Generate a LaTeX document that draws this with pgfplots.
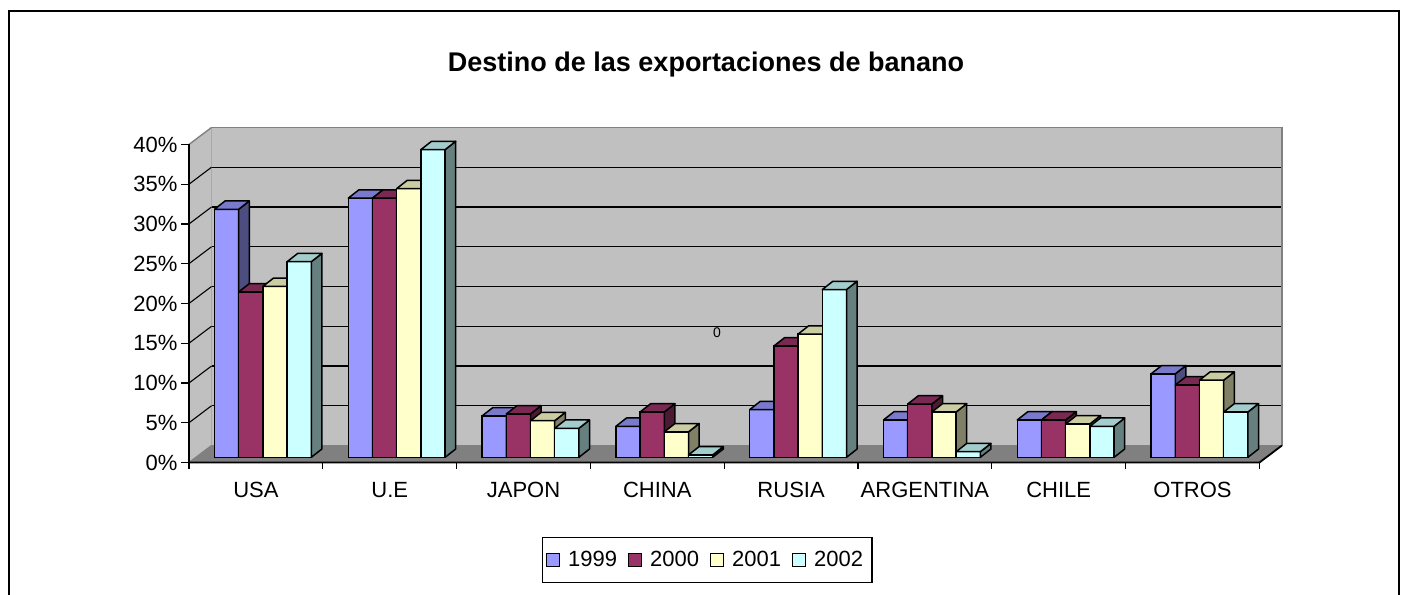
\documentclass[border=0pt]{standalone}
\usepackage{pgfplots}
\pgfplotsset{compat=1.18}
\usepackage{fontspec}
\setmainfont{Liberation Sans}
\definecolor{cA}{HTML}{9999FF}
\definecolor{cAt}{HTML}{7A7ACC}
\definecolor{cAs}{HTML}{4D4D80}
\definecolor{cB}{HTML}{993366}
\definecolor{cBt}{HTML}{7A2952}
\definecolor{cBs}{HTML}{4D1A33}
\definecolor{cC}{HTML}{FFFFCC}
\definecolor{cCt}{HTML}{CCCCA3}
\definecolor{cCs}{HTML}{808066}
\definecolor{cD}{HTML}{CCFFFF}
\definecolor{cDt}{HTML}{A3CCCC}
\definecolor{cDs}{HTML}{668080}
\definecolor{wall}{HTML}{C0C0C0}
\definecolor{floorc}{HTML}{808080}
\definecolor{edge}{HTML}{808080}
\pgfdeclareplotmark{empty}{}
\pgfplotsset{
  bars/.style n args={2}{ybar, bar width=12.1pt, bar shift=#1, fill=#2, draw=black, line width=0.75pt,
     legend image code/.code={\draw[fill=#2, draw=black, line width=0.6pt] (0pt,-3.2pt) rectangle (6.4pt,3.2pt);}},
  faces/.style n args={4}{forget plot, only marks, scatter, mark=empty, xshift=#1,
     visualization depends on={rawy \as \yv},
     scatter/@pre marker code/.code={%
        \pgfmathsetmacro{\hh}{\yv*3.975}%
        \filldraw[fill=#4, draw=black, line width=0.75pt, line join=round] (-12.1pt,0pt) rectangle (0pt,-\hh pt);
        \filldraw[fill=#3, draw=black, line width=0.75pt, line join=round] (0pt,0pt) -- (5.3pt,4.15pt) -- (5.3pt,{4.15pt-\hh pt}) -- (0pt,-\hh pt) -- cycle;
        \filldraw[fill=#2, draw=black, line width=0.75pt, line join=round] (0pt,0pt) -- (-12.1pt,0pt) -- (-6.8pt,4.15pt) -- (5.3pt,4.15pt) -- cycle;
     },
     scatter/@post marker code/.code={}},
}
\begin{document}
\begin{tikzpicture}
\useasboundingbox (0pt,0pt) rectangle (703pt,297pt);
\fill[white] (0pt,0pt) rectangle (703pt,297pt);
\draw[line width=1pt] (4.5pt,-3pt) -- (4.5pt,291.5pt) -- (699.5pt,291.5pt) -- (699.5pt,-3pt);
\node[font=\bfseries\fontsize{13.5}{16}\selectfont] at (353pt,264.5pt) {Destino de las exportaciones de banano};
\begin{axis}[
  at={(98pt,68.35pt)}, anchor=south west,
  x=66.9pt, y=3.975pt,
  xmin=0, xmax=8, ymin=0, ymax=40,
  clip=false, axis line style={draw=none}, major tick length=0pt, tick style={draw=none},
  xtick={0.5,1.5,2.5,3.5,4.5,5.5,6.5,7.5},
  xticklabels={USA,U.E,JAPON,CHINA,RUSIA,ARGENTINA,CHILE,OTROS},
  ytick={0,5,10,15,20,25,30,35,40},
  yticklabels={0\%,5\%,10\%,15\%,20\%,25\%,30\%,35\%,40\%},
  tick label style={font=\fontsize{11}{13}\selectfont},
  yticklabel style={xshift=-5.8pt, yshift=-2.6pt},
  xticklabel style={xshift=-3.5pt, yshift=-8.75pt},
  legend columns=4,
  legend style={at={(0.4775,-0.323)}, anchor=center, draw=black, line width=0.6pt,
    inner xsep=2pt, inner ysep=4pt, font=\fontsize{11}{13}\selectfont,
    nodes={inner sep=2.5pt},
    /tikz/every odd column/.append style={column sep=1.5pt},
    /tikz/every even column/.append style={column sep=3pt}},
]
% back wall
\fill[wall] ([shift={(7.75pt,5.9pt)}]axis cs:0,0) rectangle ([shift={(7.75pt,5.9pt)}]axis cs:8,40);
\pgfplotsinvokeforeach{5,10,15,20,25,30,35}{
  \draw[black, line width=0.55pt] ([shift={(7.75pt,5.9pt)}]axis cs:0,#1) -- ([shift={(7.75pt,5.9pt)}]axis cs:8,#1);
}
\draw[edge, line width=0.7pt] ([shift={(7.75pt,5.9pt)}]axis cs:0,0) rectangle ([shift={(7.75pt,5.9pt)}]axis cs:8,40);
% left wall
\fill[wall] ([shift={(7.75pt,5.9pt)}]axis cs:0,0) -- ([shift={(7.75pt,5.9pt)}]axis cs:0,40)
   -- ([shift={(-3.5pt,-2.6pt)}]axis cs:0,40) -- ([shift={(-3.5pt,-2.6pt)}]axis cs:0,0) -- cycle;
\pgfplotsinvokeforeach{5,10,15,20,25,30,35}{
  \draw[black, line width=0.55pt] ([shift={(-3.5pt,-2.6pt)}]axis cs:0,#1) -- ([shift={(7.75pt,5.9pt)}]axis cs:0,#1);
}
\draw[edge, line width=0.7pt] ([shift={(-3.5pt,-2.6pt)}]axis cs:0,40) -- ([shift={(7.75pt,5.9pt)}]axis cs:0,40);
% floor
\fill[floorc] ([shift={(-3.5pt,-2.6pt)}]axis cs:0,0) -- ([shift={(-3.5pt,-2.6pt)}]axis cs:8,0)
   -- ([shift={(7.75pt,5.9pt)}]axis cs:8,0) -- ([shift={(7.75pt,5.9pt)}]axis cs:0,0) -- cycle;
\draw[edge, line width=0.6pt] ([shift={(-3.5pt,-2.6pt)}]axis cs:0,0) -- ([shift={(7.75pt,5.9pt)}]axis cs:0,0);
\draw[black, line width=0.9pt] ([shift={(-3.5pt,-2.6pt)}]axis cs:0,0) -- ([shift={(-3.5pt,-2.6pt)}]axis cs:8,0)
   -- ([shift={(7.75pt,5.9pt)}]axis cs:8,0);
% front y axis
\draw[black, line width=0.7pt] ([shift={(-3.5pt,-2.6pt)}]axis cs:0,0) -- ([shift={(-3.5pt,-2.6pt)}]axis cs:0,40);
\pgfplotsinvokeforeach{0,5,10,15,20,25,30,35,40}{
  \draw[black, line width=0.6pt] ([shift={(-3.5pt,-2.6pt)}]axis cs:0,#1) -- ([shift={(-7.5pt,-2.6pt)}]axis cs:0,#1);
}
\pgfplotsinvokeforeach{0,1,2,3,4,5,6,7,8}{
  \draw[black, line width=0.6pt] ([shift={(-3.5pt,-2.6pt)}]axis cs:#1,0) -- ([shift={(-3.5pt,-5.9pt)}]axis cs:#1,0);
}
% bars
\addplot[bars={-18.15pt}{cA}] coordinates {(0.5,31.2) (1.5,32.6) (2.5,5.2) (3.5,3.9) (4.5,6.0) (5.5,4.7) (6.5,4.7) (7.5,10.5)};
\addlegendentry{1999}
\addplot[faces={-12.1pt}{cAt}{cAs}{cA}] coordinates {(0.5,31.2) (1.5,32.6) (2.5,5.2) (3.5,3.9) (4.5,6.0) (5.5,4.7) (6.5,4.7) (7.5,10.5)};
\addplot[bars={-6.05pt}{cB}] coordinates {(0.5,20.8) (1.5,32.6) (2.5,5.45) (3.5,5.7) (4.5,14.0) (5.5,6.7) (6.5,4.7) (7.5,9.1)};
\addlegendentry{2000}
\addplot[faces={0pt}{cBt}{cBs}{cB}] coordinates {(0.5,20.8) (1.5,32.6) (2.5,5.45) (3.5,5.7) (4.5,14.0) (5.5,6.7) (6.5,4.7) (7.5,9.1)};
\addplot[bars={6.05pt}{cC}] coordinates {(0.5,21.5) (1.5,33.8) (2.5,4.6) (3.5,3.2) (4.5,15.5) (5.5,5.7) (6.5,4.2) (7.5,9.7)};
\addlegendentry{2001}
\addplot[faces={12.1pt}{cCt}{cCs}{cC}] coordinates {(0.5,21.5) (1.5,33.8) (2.5,4.6) (3.5,3.2) (4.5,15.5) (5.5,5.7) (6.5,4.2) (7.5,9.7)};
\addplot[bars={18.15pt}{cD}] coordinates {(0.5,24.6) (1.5,38.7) (2.5,3.65) (3.5,0.3) (4.5,21.1) (5.5,0.7) (6.5,3.9) (7.5,5.7)};
\addlegendentry{2002}
\addplot[faces={24.2pt}{cDt}{cDs}{cD}] coordinates {(0.5,24.6) (1.5,38.7) (2.5,3.65) (3.5,0.3) (4.5,21.1) (5.5,0.7) (6.5,3.9) (7.5,5.7)};
\end{axis}
\node[font=\fontsize{7}{8}\selectfont] at (358.5pt,130.5pt) {0};
\end{tikzpicture}
\end{document}
